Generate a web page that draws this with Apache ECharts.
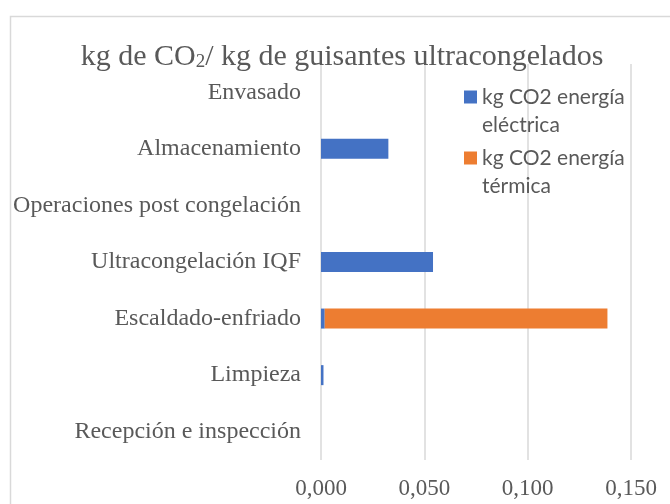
<!DOCTYPE html>
<html>
<head>
<meta charset="utf-8">
<script src="https://cdn.jsdelivr.net/npm/echarts@6/dist/echarts.min.js"></script>
<style>
  html, body { margin: 0; padding: 0; background: #fff; }
  #chart { width: 670px; height: 504px; }
</style>
</head>
<body>
<div id="chart"></div>
<script>
// etapas del proceso, de abajo hacia arriba
const categories = ['Recepción e inspección', 'Limpieza', 'Escaldado-enfriado', 'Ultracongelación IQF',
  'Operaciones post congelación', 'Almacenamiento', 'Envasado'];
const electrica = [0, 0.0012, 0.0018, 0.0542, 0, 0.0326, 0];
const termica = [0, 0, 0.1368, 0, 0, 0, 0];
const seriesNames = ['kg CO2 energía eléctrica', 'kg CO2 energía térmica'];
// blank first line so the icon lines up with the first text line
const legendLabels = {
  'kg CO2 energía eléctrica': ' \nkg CO2 energía\neléctrica',
  'kg CO2 energía térmica': ' \nkg CO2 energía\ntérmica'
};

const serif = "'Liberation Serif', 'Times New Roman', serif";
const grey = '#595959';

const chart = echarts.init(document.getElementById('chart'));

chart.setOption({
  animation: false,
  graphic: [{
    type: 'rect',
    left: 8, top: 14,
    shape: { width: 700, height: 520 },
    style: { fill: 'none', stroke: '#d9d9d9', lineWidth: 1.5 }
  }],
  title: {
    text: '{a|kg de CO}{s|2}{a|/ kg de guisantes ultracongelados}',
    left: 337, top: 37,
    textAlign: 'center',
    textStyle: {
      fontWeight: 'normal',
      rich: {
        a: { fontFamily: serif, fontSize: 30, fontWeight: 'normal', color: grey },
        s: { fontFamily: serif, fontSize: 19, fontWeight: 'normal', color: grey, padding: [11, 0, 0, 0] }
      }
    }
  },
  legend: {
    orient: 'vertical',
    left: 459, top: 50,
    itemWidth: 13, itemHeight: 13,
    itemGap: -23,
    icon: 'rect',
    data: seriesNames,
    formatter: name => legendLabels[name],
    textStyle: {
      fontFamily: "Lato, 'Open Sans', sans-serif",
      fontSize: 21,
      color: grey,
      lineHeight: 28
    }
  },
  grid: { left: 321, right: 39, top: 64, bottom: 44 },
  xAxis: {
    type: 'value',
    min: 0, max: 0.15, interval: 0.05,
    axisLine: { show: false },
    axisTick: { show: false },
    splitLine: { lineStyle: { color: '#d9d9d9', width: 1.5 } },
    axisLabel: {
      margin: 17,
      fontFamily: serif, fontSize: 23, color: grey,
      formatter: v => v.toFixed(3).replace('.', ',')
    }
  },
  yAxis: {
    type: 'category',
    data: categories,
    axisLine: { show: false },
    axisTick: { show: false },
    axisLabel: { margin: 20, fontFamily: serif, fontSize: 24, color: grey }
  },
  series: [
    { name: seriesNames[0], type: 'bar', stack: 'total', barWidth: 20, data: electrica,
      itemStyle: { color: '#4472C4' } },
    { name: seriesNames[1], type: 'bar', stack: 'total', barWidth: 20, data: termica,
      itemStyle: { color: '#ED7D31' } }
  ]
});
</script>
</body>
</html>
